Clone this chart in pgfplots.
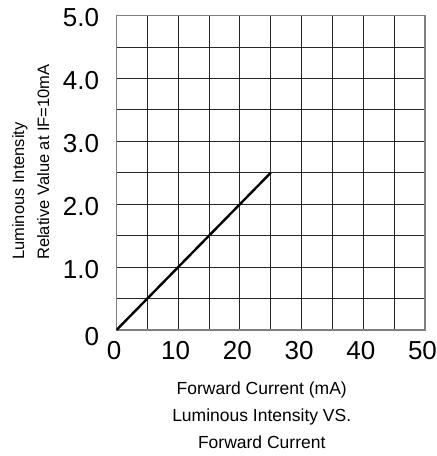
\documentclass[border=0pt]{standalone}
\usepackage{pgfplots}
\pgfplotsset{compat=1.18}
\usepackage{fontspec}
\setmainfont{Liberation Sans}

\begin{document}
\begin{tikzpicture}
\begin{axis}[
    scale only axis,
    width=308.5pt, height=314.5pt,
    xmin=0, xmax=50, ymin=0, ymax=5,
    xtick={0,10,20,30,40,50},
    minor xtick={5,15,25,35,45},
    ytick={0,1,2,3,4,5},
    minor ytick={0.5,1.5,2.5,3.5,4.5},
    yticklabels={\raisebox{-5pt}[\height][\depth]{0},1.0,2.0,3.0,4.0,5.0},
    grid=both,
    major grid style={black!85, line width=0.9pt},
    minor grid style={black!85, line width=0.9pt},
    axis line style={black!50, line width=1.3pt},
    major tick length=0pt, minor tick length=0pt,
    tick label style={font=\fontsize{26}{26}\selectfont},
    /pgf/number format/assume math mode=true,
    xticklabel style={xshift=-2.5pt, yshift=-8pt},
    yticklabel style={xshift=-14pt, yshift=-2pt},
]
\addplot[black, line width=2.4pt] coordinates {(0,0) (25,2.5)};
\end{axis}
\node[anchor=north, align=center, inner sep=0pt,
      font=\fontsize{17.5}{27}\selectfont]
  at ([shift={(-9pt,-52pt)}]current axis.south) {Forward Current (mA)\\Luminous Intensity VS.\\Forward Current};
\node[rotate=90, anchor=north west, align=left, inner sep=0pt,
      font=\fontsize{16.5}{25}\selectfont]
  at ([shift={(-104.5pt,70pt)}]current axis.south west) {Luminous Intensity\\Relative Value at IF=10mA};
\pgfresetboundingbox
\path[use as bounding box] ([shift={(-116.5pt,-126pt)}]current axis.south west) rectangle ([shift={(12pt,15.5pt)}]current axis.north east);
\end{tikzpicture}
\end{document}
